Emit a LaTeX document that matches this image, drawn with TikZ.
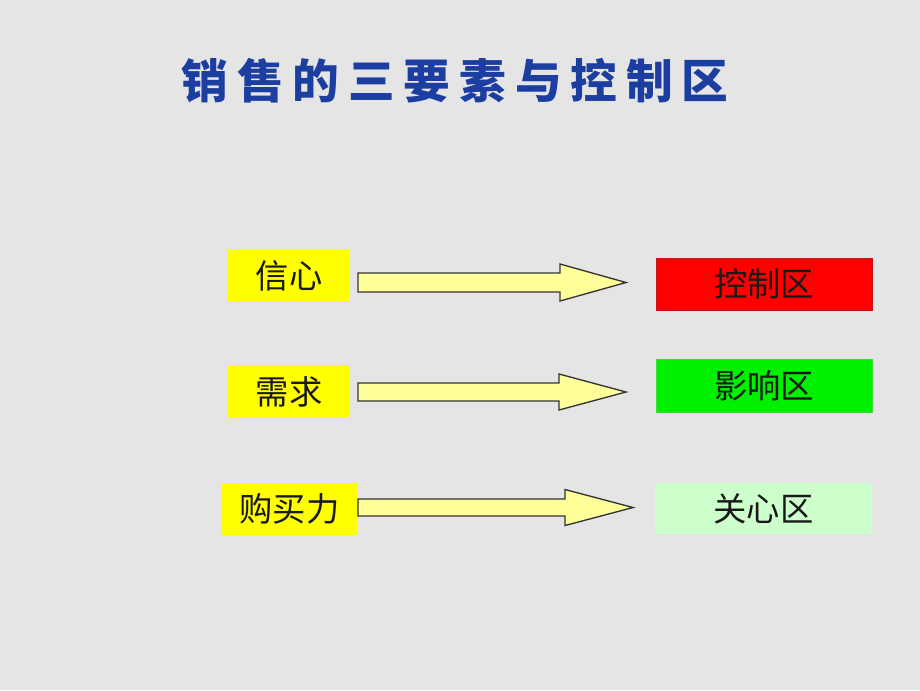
\documentclass[tikz,border=0pt]{standalone}
\usepackage{fontspec}
\newfontfamily\cjk{Noto Sans CJK SC}
\definecolor{bg}{RGB}{229,229,229}
\definecolor{titleblue}{RGB}{28,62,160}
\definecolor{boxyellow}{RGB}{255,255,0}
\definecolor{arrowfill}{RGB}{255,255,153}
\definecolor{zred}{RGB}{255,0,0}
\definecolor{zredline}{RGB}{200,20,20}
\definecolor{zgreen}{RGB}{0,240,0}
\definecolor{zgreenline}{RGB}{60,220,60}
\definecolor{zlight}{RGB}{204,255,204}
\tikzset{
  px/.style={x=0.75pt,y=-0.75pt},
  lbox/.style={fill=boxyellow, draw=none, inner sep=0pt, font=\cjk\fontsize{25}{25}\selectfont, text=black!90},
  rbox/.style={inner sep=0pt, font=\cjk\fontsize{25}{25}\selectfont, text=black!90},
  fatarrow/.style={fill=arrowfill, draw=black!80, line width=1pt, line join=miter},
  titlestyle/.style={inner sep=0pt, text=titleblue, font=\cjk\bfseries\fontsize{35}{35}\selectfont}
}
\newcommand{\fatarrowpath}[6]{% y, x0, xh, xt, shafthalf, headhalf
  \draw[fatarrow] (#2,#1-#5) -- (#3,#1-#5) -- (#3,#1-#6) -- (#4,#1) -- (#3,#1+#6) -- (#3,#1+#5) -- (#2,#1+#5) -- cycle;}
\begin{document}
\begin{tikzpicture}[px]
\fill[bg] (0,0) rectangle (920,690);
\useasboundingbox (0,0) rectangle (920,690);
% title
\node[titlestyle] (title) at (455,81) {销\kern6.7pt 售\kern6.7pt 的\kern6.7pt 三\kern6.7pt 要\kern6.7pt 素\kern6.7pt 与\kern6.7pt 控\kern6.7pt 制\kern6.7pt 区};
% left boxes
\node[lbox, minimum width=91.5pt, minimum height=39pt] (b1) at (289,276) {信心};
\node[lbox, minimum width=91.5pt, minimum height=39.75pt] (b2) at (289,391.5) {需求};
\node[lbox, minimum width=101.25pt, minimum height=39pt] (b3) at (289.5,509) {购买力};
% right boxes
\node[rbox, fill=zred, draw=zredline, line width=0.6pt, minimum width=162pt, minimum height=39pt] (r1) at (764,284) {控制区};
\node[rbox, fill=zgreen, draw=zgreenline, line width=0.6pt, minimum width=162pt, minimum height=39.75pt] (r2) at (764,385.5) {影响区};
\node[rbox, fill=zlight, minimum width=162.75pt, minimum height=38.25pt] (r3) at (763.5,508.5) {关心区};
% arrows
\fatarrowpath{282.5}{358}{560}{626}{9.5}{18.5}
\fatarrowpath{392}{358}{559}{626}{9}{18}
\fatarrowpath{507.5}{358}{565}{633}{8.5}{18}
\end{tikzpicture}
\end{document}
